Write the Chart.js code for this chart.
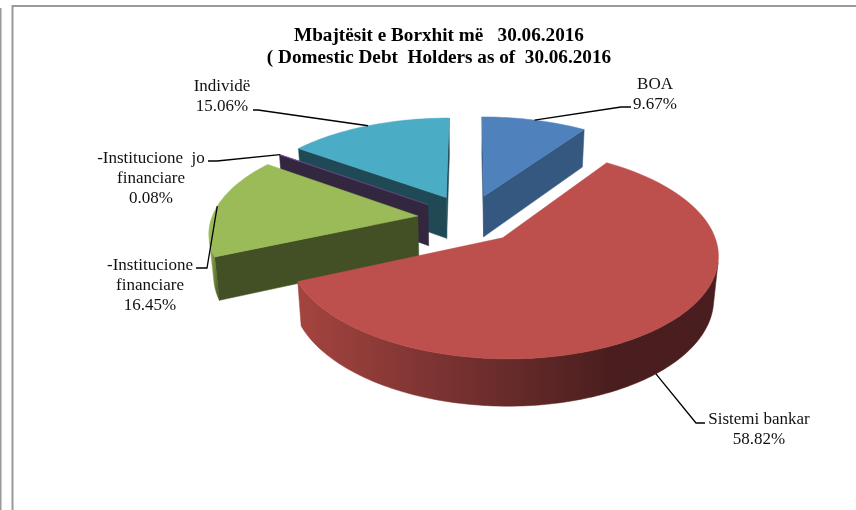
<!DOCTYPE html>
<html><head><meta charset="utf-8">
<style>html,body{margin:0;padding:0;background:#fff}#w{position:relative;width:856px;height:510px}canvas{display:block}</style>
<script src="https://cdn.jsdelivr.net/npm/chart.js@4"></script>
</head><body><div id="w"><canvas id="c" width="856" height="510"></canvas></div>
<script>
const categories = ['BOA', 'Sistemi bankar', '-Institucione financiare', '-Institucione jo financiare', 'Individë'];
const shares = [9.67, 58.82, 16.45, 0.08, 15.06];
const shareLabels = ['9.67%', '58.82%', '16.45%', '0.08%', '15.06%'];
const nameLines = [['BOA'], ['Sistemi bankar'], ['-Institucione', 'financiare'], ['-Institucione  jo', 'financiare'], ['Individë']];
const titleLines = ['Mbajtësit e Borxhit më   30.06.2016', '( Domestic Debt  Holders as of  30.06.2016'];
const topColors = ['#4f81bd', '#bd4f4c', '#9bbb59', '#6b4f8c', '#4bacc6'];
const sideColors = ['#345880', '#4a1e1e', '#434f25', '#33273f', '#1f4a55'];
const drawOrder = [0, 4, 3, 2, 1];

const cam = {cx: 469, cy: 218.5, f: 1238, D: 6, s: 0.47, c: 0.883, h: 0.233, explode: 0.25};
function project(X, Y, Z) {
  const d = cam.D + Y * cam.c - Z * cam.s;
  return [cam.cx + cam.f * X / d, cam.cy - cam.f * (Y * cam.s + Z * cam.c) / d];
}
const camPos = [0, -cam.D * cam.c, cam.D * cam.s];
const faces = (n, p) => n[0] * (camPos[0] - p[0]) + n[1] * (camPos[1] - p[1]) > 0;

const labelLayout = [
  {x: 655, y: 85, z: 0, elbow: [621, 107], end: [631, 107]},
  {x: 759, y: 420, z: 1, elbow: [696, 423], end: [705, 423]},
  {x: 150, y: 266, z: 0, elbow: [207, 268], end: [196, 268]},
  {x: 151, y: 159, z: 0, elbow: [217, 161], end: [208, 161]},
  {x: 222, y: 87, z: 0, elbow: [258, 110], end: [253, 110]}
];

function polygon(ctx, pts, fill) {
  ctx.beginPath();
  pts.forEach((p, i) => i ? ctx.lineTo(p[0], p[1]) : ctx.moveTo(p[0], p[1]));
  ctx.closePath();
  ctx.fillStyle = fill;
  ctx.fill();
  ctx.strokeStyle = fill;
  ctx.lineWidth = 0.5;
  ctx.stroke();
}

function drawSlice(ctx, arc, i) {
  const a0 = arc.startAngle + Math.PI / 2, a1 = arc.endAngle + Math.PI / 2, mid = (a0 + a1) / 2;
  const ox = cam.explode * Math.sin(mid), oy = cam.explode * Math.cos(mid);
  const rim = a => [ox + Math.sin(a), oy + Math.cos(a)];
  const steps = Math.max(2, Math.ceil((a1 - a0) / 0.02));
  const angles = [];
  for (let k = 0; k <= steps; k++) angles.push(a0 + (a1 - a0) * k / steps);
  const apex = [ox, oy];
  const quad = (a, b) => [project(a[0], a[1], 0), project(b[0], b[1], 0), project(b[0], b[1], -cam.h), project(a[0], a[1], -cam.h)];
  const r0 = rim(a0), r1 = rim(a1);
  if (faces([-Math.cos(a0), Math.sin(a0)], r0)) polygon(ctx, quad(apex, r0), sideColors[i]);
  if (faces([Math.cos(a1), -Math.sin(a1)], r1)) polygon(ctx, quad(apex, r1), sideColors[i]);
  const vis = angles.filter(a => faces([Math.sin(a), Math.cos(a)], rim(a)));
  if (vis.length > 1) {
    const top = vis.map(a => project(rim(a)[0], rim(a)[1], 0));
    const bot = vis.map(a => project(rim(a)[0], rim(a)[1], -cam.h));
    const xs = top.concat(bot).map(p => p[0]);
    const g = ctx.createLinearGradient(Math.min(...xs), 0, Math.max(...xs), 0);
    if (i === 1) {
      g.addColorStop(0, '#a5443f'); g.addColorStop(0.3, '#7f3533');
      g.addColorStop(0.745, sideColors[1]); g.addColorStop(1, sideColors[1]);
    } else { g.addColorStop(0, topColors[i]); g.addColorStop(1, sideColors[i]); }
    polygon(ctx, top.concat(bot.reverse()), g);
  }
  polygon(ctx, [project(ox, oy, 0)].concat(angles.map(a => project(rim(a)[0], rim(a)[1], 0))), topColors[i]);
}

function drawLabel(ctx, arc, i) {
  const l = labelLayout[i];
  const mid = (arc.startAngle + arc.endAngle) / 2 + Math.PI / 2;
  const X = (cam.explode + 1) * Math.sin(mid), Y = (cam.explode + 1) * Math.cos(mid);
  const anchor = project(X, Y, l.z ? -cam.h : 0);
  ctx.beginPath();
  ctx.moveTo(anchor[0], anchor[1]);
  ctx.lineTo(l.elbow[0], l.elbow[1]);
  ctx.lineTo(l.end[0], l.end[1]);
  ctx.strokeStyle = '#000';
  ctx.lineWidth = 1.3;
  ctx.stroke();
  ctx.fillStyle = '#111';
  ctx.font = '17px "Liberation Serif"';
  ctx.textAlign = 'center';
  ctx.textBaseline = 'middle';
  nameLines[i].concat([shareLabels[i]]).forEach((t, n) => ctx.fillText(t, l.x, l.y + n * 19.8));
}

const pie3d = {
  id: 'pie3d',
  beforeDraw(chart) {
    const ctx = chart.ctx;
    ctx.save();
    ctx.fillStyle = '#fff';
    ctx.fillRect(0, 0, chart.width, chart.height);
    ctx.strokeStyle = '#999';
    ctx.lineWidth = 2;
    ctx.beginPath();
    ctx.moveTo(856, 6); ctx.lineTo(12.5, 6); ctx.lineTo(12.5, 510);
    ctx.moveTo(0.5, 8); ctx.lineTo(0.5, 510);
    ctx.stroke();
    ctx.restore();
  },
  beforeDatasetsDraw(chart) {
    const ctx = chart.ctx, arcs = chart.getDatasetMeta(0).data;
    ctx.save();
    drawOrder.forEach(i => drawSlice(ctx, arcs[i], i));
    arcs.forEach((a, i) => drawLabel(ctx, a, i));
    ctx.restore();
    return false;
  }
};

new Chart(document.getElementById('c'), {
  type: 'pie',
  data: {labels: categories, datasets: [{data: shares, backgroundColor: topColors, borderWidth: 0, offset: 30}]},
  options: {
    responsive: false, animation: false,
    layout: {padding: {left: 22, top: 19}},
    plugins: {
      legend: {display: false}, tooltip: {enabled: false},
      title: {display: true, text: titleLines, color: '#000', padding: {top: 6, bottom: 10},
        font: {family: '"Liberation Serif"', size: 19.2, weight: 'bold', lineHeight: 1.15}}
    }
  },
  plugins: [pie3d]
});
</script></body></html>
